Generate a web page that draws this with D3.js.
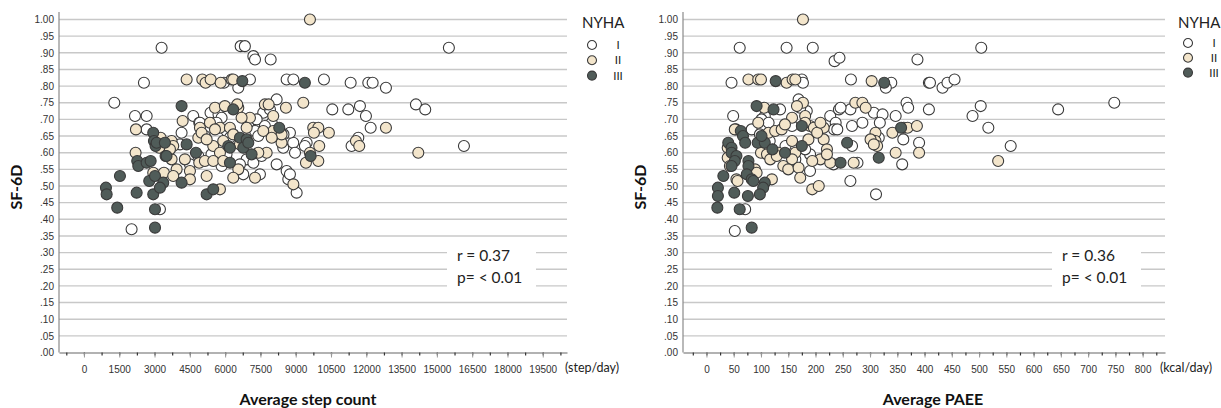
<!DOCTYPE html>
<html>
<head>
<meta charset="utf-8">
<script src="https://cdn.jsdelivr.net/npm/d3@7"></script>
<style>
body { margin: 0; background: #fff; }
svg text { font-family: Lato, "Open Sans", sans-serif; }
.tickval text { font-family: "Liberation Sans Narrow", "Arial Narrow", sans-serif; font-size: 10px; fill: #333; }
</style>
</head>
<body>
<div id="vis"></div>
<script>
// ---- data ----
var nyhaClasses = ["I", "II", "III"];
var sfTicks = d3.range(0, 21).map(function(i) { return i * 0.05; });
var stepLabels = d3.range(0, 19501, 1500);
var stepMinor = d3.range(-750, 20251, 750);
var paeeLabels = d3.range(0, 801, 50);
var paeeMinor = d3.range(-25, 826, 25);

// average step count vs SF-6D, [steps, sf6d]
var stepNyha1 = [[3300,.915],[6660,.92],[6840,.92],[7200,.89],[7270,.88],[7935,.88],[2550,.81],[5950,.81],[6560,.795],[7055,.82],
  [8615,.82],[8900,.82],[10200,.82],[11335,.81],[12085,.81],[12270,.81],[12835,.795],[15510,.915],[14110,.745],[14505,.73],
  [10555,.73],[11235,.73],[11730,.74],[11985,.71],[12185,.675],[9465,.63],[9390,.62],[11375,.62],[11660,.645],[16150,.62],
  [1290,.75],[2170,.71],[2665,.71],[2665,.67],[4645,.71],[4900,.69],[4150,.66],[5380,.72],[5720,.715],[8190,.76],
  [4080,.625],[3230,.43],[2025,.37],[5850,.705],[7620,.72],[7905,.73],[7980,.69],[7270,.665],[7410,.65],[6490,.64],
  [5495,.60],[6915,.58],[7200,.57],[7480,.535],[8190,.565],[8685,.52],[9040,.48],[4930,.69],[8895,.63],[8970,.60],
  [8755,.66],[8615,.545],[8755,.535],[5640,.69],[6060,.665],[6990,.69],[7340,.70],[7690,.68],[8480,.655],[6200,.645],
  [5140,.65],[4860,.59],[5420,.595],[6060,.595],[6630,.565],[7550,.59],[8470,.615],[5850,.56],[6770,.535],[4505,.565]];
var stepNyha2 = [[9605,1.00],[4365,.82],[5030,.82],[5170,.81],[5385,.82],[5810,.81],[6275,.82],[6345,.82],[9320,.75],[9745,.675],
  [9960,.675],[9775,.66],[10410,.66],[12835,.675],[10000,.62],[9605,.60],[9960,.575],[9435,.57],[11560,.635],[11700,.62],
  [14210,.60],[2210,.67],[4195,.695],[5570,.735],[6560,.735],[7055,.705],[6915,.675],[7690,.745],[7850,.745],[8585,.735],
  [8045,.71],[8045,.665],[8400,.63],[4930,.675],[4860,.645],[5495,.62],[5780,.675],[6205,.675],[4290,.58],[4900,.57],
  [4505,.545],[3940,.55],[4505,.52],[5780,.49],[2195,.60],[2945,.54],[3400,.54],[3795,.53],[3725,.635],[3795,.62],
  [3260,.645],[3200,.615],[3725,.58],[5990,.74],[6515,.745],[6700,.705],[8400,.655],[7620,.665],[7980,.645],[7765,.60],
  [7410,.60],[6345,.655],[6630,.625],[5920,.635],[5780,.60],[5140,.575],[5495,.575],[5920,.575],[6560,.55],[6345,.525],
  [7270,.525],[8900,.505],[5215,.53],[5000,.66],[5215,.64],[5355,.69],[5570,.67],[3655,.61]];
var stepNyha3 = [[6730,.815],[9390,.81],[9635,.59],[2945,.66],[4150,.74],[6345,.73],[8300,.675],[6630,.645],[6915,.64],[7125,.595],
  [6205,.57],[6135,.62],[4365,.625],[4760,.60],[4150,.51],[5215,.475],[5495,.49],[2975,.635],[3045,.62],[3470,.59],
  [2265,.575],[2310,.56],[2665,.57],[2835,.575],[1530,.53],[935,.495],[965,.475],[2240,.48],[2945,.475],[2775,.515],
  [3020,.53],[3370,.51],[3230,.495],[1415,.435],[3020,.43],[3020,.375],[3090,.63],[3440,.63],[3510,.59],[6770,.615],
  [6985,.63],[6205,.615]];

// average PAEE vs SF-6D, [kcal/day, sf6d]
var paeeNyha1 = [[61,.915],[147,.915],[195,.915],[235,.875],[244,.885],[387,.88],[46,.81],[175,.82],[177,.81],[265,.82],
  [339,.81],[329,.795],[408,.81],[49,.71],[135,.73],[169,.76],[184,.725],[227,.71],[243,.73],[264,.73],
  [307,.72],[323,.715],[347,.71],[367,.75],[370,.735],[408,.73],[267,.68],[286,.69],[361,.64],[390,.63],
  [359,.565],[267,.62],[277,.57],[264,.515],[311,.475],[190,.545],[504,.915],[410,.81],[433,.795],[442,.81],
  [455,.82],[503,.74],[488,.71],[645,.73],[748,.75],[517,.675],[558,.62],[246,.735],[237,.69],[234,.67],
  [240,.67],[318,.69],[316,.645],[233,.565],[172,.735],[107,.71],[101,.70],[114,.69],[83,.67],[98,.655],
  [157,.68],[190,.595],[71,.43],[52,.365],[116,.635],[145,.62],[163,.58],[181,.61]];
var paeeNyha2 = [[177,1.00],[77,.82],[95,.82],[100,.82],[147,.81],[158,.82],[163,.82],[303,.815],[54,.67],[106,.735],
  [177,.75],[166,.74],[273,.75],[286,.75],[292,.735],[95,.69],[157,.705],[190,.68],[215,.675],[310,.66],
  [310,.635],[313,.62],[341,.66],[362,.675],[369,.675],[386,.68],[390,.60],[347,.60],[270,.57],[194,.49],
  [206,.50],[535,.575],[301,.64],[307,.625],[215,.64],[221,.61],[209,.58],[227,.57],[221,.595],[181,.71],
  [181,.69],[52,.67],[39,.615],[114,.66],[126,.665],[138,.67],[144,.685],[197,.675],[203,.66],[209,.69],
  [100,.60],[111,.595],[117,.58],[132,.60],[129,.59],[157,.635],[163,.60],[157,.58],[187,.64],[194,.575],
  [141,.56],[150,.55],[169,.555],[172,.525],[39,.585],[43,.56],[89,.55],[92,.54],[55,.52],[120,.52],[57,.515]];
var paeeNyha3 = [[127,.815],[326,.81],[63,.665],[92,.74],[123,.73],[175,.68],[258,.63],[316,.585],[246,.57],[357,.675],
  [67,.65],[40,.63],[46,.615],[71,.63],[94,.63],[107,.63],[101,.65],[121,.61],[144,.60],[175,.62],
  [46,.60],[55,.59],[52,.575],[46,.56],[77,.575],[77,.56],[74,.535],[83,.52],[107,.51],[104,.495],
  [98,.475],[31,.53],[21,.495],[21,.47],[51,.48],[76,.47],[20,.435],[61,.43],[83,.375],[86,.515]];

var fills = ["#ffffff", "#f3e5cb", "#505c59"];

var w = 1221, h = 408;
var svg = d3.select("#vis").append("svg")
  .attr("width", w)
  .attr("height", h)
  .style("background", "#fff");

function sfFormat(d) {
  return d >= 0.999 ? "1.00" : d3.format(".2f")(d).replace(/^0/, "");
}

function drawPanel(p) {
  var x = d3.scaleLinear().domain(p.xDomain).range([p.left, p.right]);
  var y = d3.scaleLinear().domain([0, 1]).range([352.5, 19.5]);
  var g = svg.append("g");

  // gridlines
  g.selectAll("line.grid")
    .data(sfTicks.slice(1))
    .enter()
    .append("line")
    .attr("x1", p.left).attr("x2", p.right)
    .attr("y1", function(d) { return y(d); })
    .attr("y2", function(d) { return y(d); })
    .attr("stroke", "#c8c8c8")
    .attr("stroke-width", 1.4);

  // y axis line
  g.append("line")
    .attr("x1", p.left).attr("x2", p.left)
    .attr("y1", 12).attr("y2", y(0))
    .attr("stroke", "#8a8a8a")
    .attr("stroke-width", 1.2);

  // y labels
  var ya = g.append("g")
    .attr("class", "tickval")
    .attr("transform", "translate(" + p.left + ",0)")
    .call(d3.axisLeft(y).tickValues(sfTicks).tickSize(0).tickPadding(5).tickFormat(sfFormat));
  ya.select(".domain").remove();

  // x axis: minor ticks then labelled ticks
  var xm = g.append("g")
    .attr("transform", "translate(0," + y(0) + ")")
    .call(d3.axisBottom(x).tickValues(p.minor).tickSize(3).tickSizeOuter(0).tickFormat(""));
  xm.select(".domain").attr("stroke", "#666").attr("stroke-width", 1.2);
  xm.selectAll(".tick line").attr("stroke", "#333").attr("stroke-width", 1.2);

  var xa = g.append("g")
    .attr("class", "tickval")
    .attr("transform", "translate(0," + y(0) + ")")
    .call(d3.axisBottom(x).tickValues(p.labels).tickSize(5).tickSizeOuter(0).tickPadding(8).tickFormat(d3.format("d")));
  xa.select(".domain").remove();
  xa.selectAll(".tick line").attr("stroke", "#999");

  g.append("text")
    .attr("x", p.unitX)
    .attr("y", 372)
    .attr("font-size", 12.5)
    .attr("fill", "#222")
    .text(p.unit);

  // titles
  g.append("text")
    .attr("x", p.titleX)
    .attr("y", 405)
    .attr("text-anchor", "middle")
    .attr("font-size", 16)
    .attr("font-weight", "bold")
    .attr("fill", "#111")
    .text(p.xTitle);

  g.append("text")
    .attr("transform", "translate(" + (p.left - 37) + ",187) rotate(-90)")
    .attr("text-anchor", "middle")
    .attr("font-size", 16)
    .attr("font-weight", "bold")
    .attr("fill", "#111")
    .text("SF-6D");

  // r / p box
  g.append("rect")
    .attr("x", p.boxX).attr("y", 244)
    .attr("width", 89).attr("height", 48)
    .attr("fill", "#fff");
  g.append("text")
    .attr("x", p.boxX + 10).attr("y", 261)
    .attr("font-size", 15.5).attr("fill", "#222")
    .text(p.rText);
  g.append("text")
    .attr("x", p.boxX + 10).attr("y", 283)
    .attr("font-size", 15.5).attr("fill", "#222")
    .text("p= < 0.01");

  // points
  p.series.forEach(function(s, k) {
    g.append("g").selectAll("circle")
      .data(s)
      .enter()
      .append("circle")
      .attr("cx", function(d) { return x(d[0]); })
      .attr("cy", function(d) { return y(d[1]); })
      .attr("r", 5.5)
      .attr("fill", fills[k])
      .attr("stroke", "#3a3a3a")
      .attr("stroke-width", 1.1);
  });

  // legend
  g.append("text")
    .attr("x", p.legX).attr("y", 28)
    .attr("font-size", 15).attr("fill", "#222")
    .text("NYHA");
  var lg = g.selectAll("g.leg")
    .data(nyhaClasses)
    .enter()
    .append("g")
    .attr("transform", function(d, i) { return "translate(" + (p.legX + 10) + "," + (p.legY + i * p.legStep) + ")"; });
  lg.append("circle")
    .attr("r", 4.5)
    .attr("fill", function(d, i) { return fills[i]; })
    .attr("stroke", "#3a3a3a")
    .attr("stroke-width", 1.1);
  lg.append("text")
    .attr("x", 26).attr("y", 4)
    .attr("text-anchor", "middle")
    .attr("font-size", 11.5).attr("fill", "#222")
    .text(function(d) { return d; });
}

drawPanel({
  left: 59, right: 567, xDomain: [-1060, 20530],
  labels: stepLabels, minor: stepMinor, unit: "(step/day)", unitX: 565,
  xTitle: "Average step count", titleX: 308,
  boxX: 447, rText: "r = 0.37",
  legX: 582, legY: 45, legStep: 15.3,
  series: [stepNyha1, stepNyha2, stepNyha3]
});

drawPanel({
  left: 683, right: 1165, xDomain: [-43, 841],
  labels: paeeLabels, minor: paeeMinor, unit: "(kcal/day)", unitX: 1160,
  xTitle: "Average PAEE", titleX: 933,
  boxX: 1052, rText: "r = 0.36",
  legX: 1178, legY: 43, legStep: 14.8,
  series: [paeeNyha1, paeeNyha2, paeeNyha3]
});
</script>
</body>
</html>
